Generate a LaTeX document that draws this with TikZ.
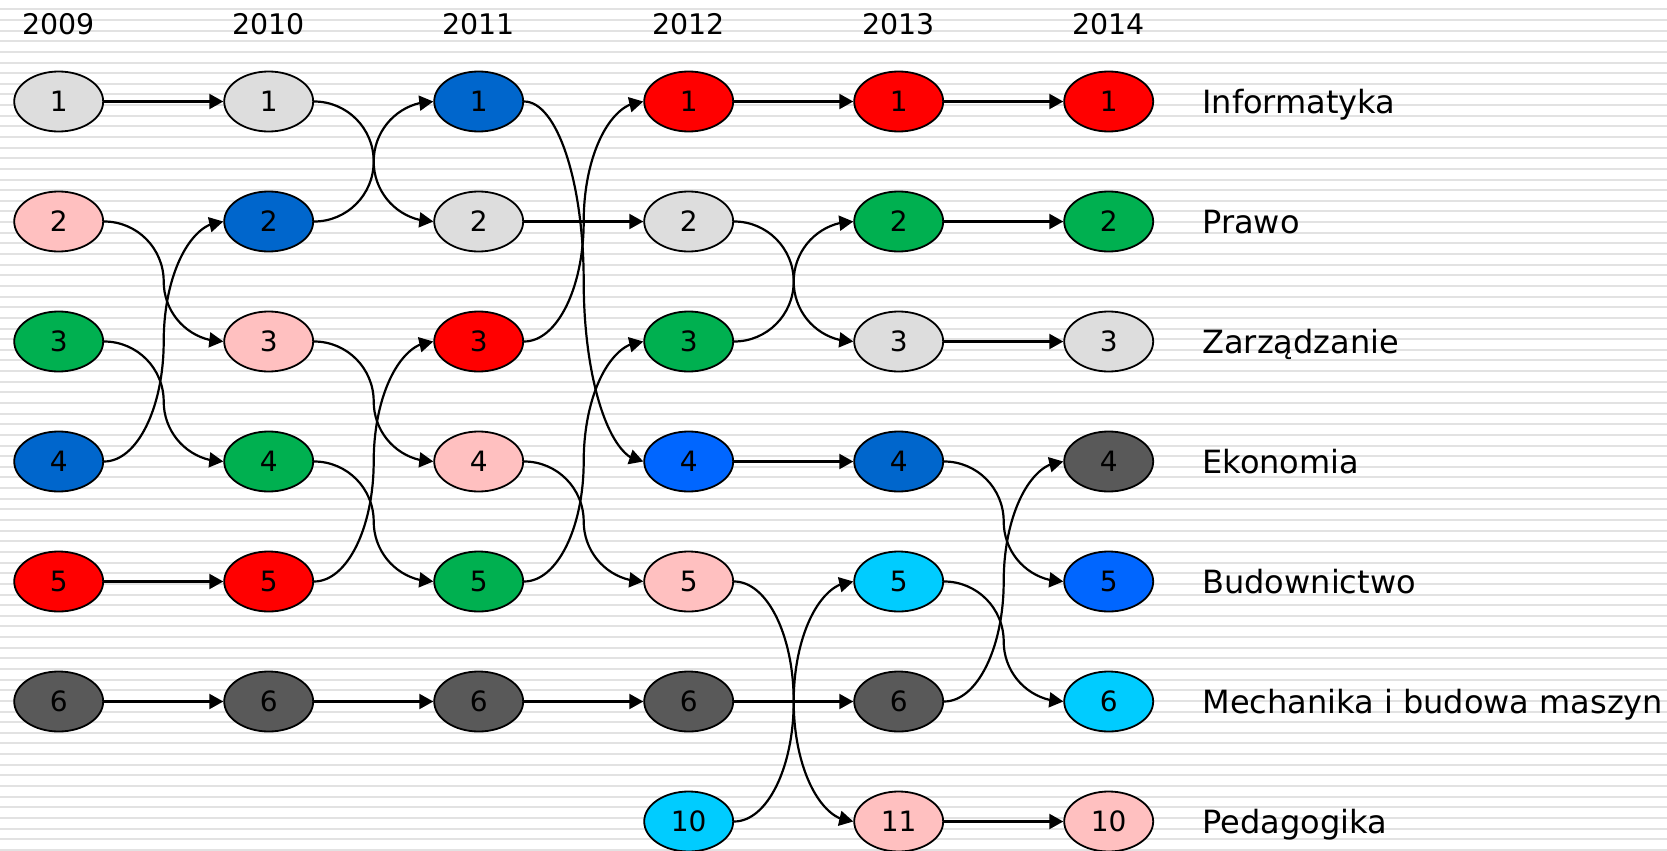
\documentclass[tikz,border=0pt]{standalone}
\usepackage{fontspec}
\setmainfont{DejaVu Sans}
\usetikzlibrary{arrows.meta,bending,calc,shapes.geometric}
\definecolor{cLG}{HTML}{DDDDDD}
\definecolor{cPK}{HTML}{FFC0C0}
\definecolor{cGR}{HTML}{00B050}
\definecolor{cDB}{HTML}{0066CC}
\definecolor{cBB}{HTML}{0066FF}
\definecolor{cRD}{HTML}{FF0000}
\definecolor{cDG}{HTML}{595959}
\definecolor{cCY}{HTML}{00CCFF}
\definecolor{cStripe}{HTML}{E2E2E2}
\tikzset{
  nd/.style={ellipse, draw=black, line width=0.9pt, minimum width=44.5pt, minimum height=30pt, inner sep=0pt, font=\fontsize{14}{16}\selectfont},
  yrlab/.style={inner sep=0pt, font=\fontsize{14.2}{16}\selectfont},
  rlab/.style={inner sep=0pt, anchor=base west, font=\fontsize{16}{18}\selectfont},
  conn/.style={line width=1.1pt, -{Triangle[length=7pt,width=7.5pt,flex]}},
  sconn/.style={to path={let \p1=(\tikztostart), \p2=(\tikztotarget) in
    .. controls ({\x1+0.27615*(\x2-\x1)},\y1) and ({0.5*(\x1+\x2)},{\y1+0.22385*(\y2-\y1)}) .. ({0.5*(\x1+\x2)},{0.5*(\y1+\y2)})
    .. controls ({0.5*(\x1+\x2)},{\y2-0.22385*(\y2-\y1)}) and ({\x2-0.27615*(\x2-\x1)},\y2) .. (\tikztotarget)}}
}
\begin{document}
\begin{tikzpicture}[x=0.5pt,y=-0.5pt]
\useasboundingbox (0,0) rectangle (1667,851);
\fill[white] (0,0) rectangle (1667,851);
\foreach \i in {0,...,79} \fill[cStripe] (0,{9.3+10.64*\i-1}) rectangle (1667,{9.3+10.64*\i+1});
% year labels
\node[yrlab] (y09) at (58.7,24.2) {2009};
\node[yrlab] (y10) at (268.7,24.2) {2010};
\node[yrlab] (y11) at (478.7,24.2) {2011};
\node[yrlab] (y12) at (688.7,24.2) {2012};
\node[yrlab] (y13) at (898.7,24.2) {2013};
\node[yrlab] (y14) at (1108.7,24.2) {2014};
% 2009
\node[nd,fill=cLG] (a1) at (58.7,101.5) {1};
\node[nd,fill=cPK] (a2) at (58.7,221.5) {2};
\node[nd,fill=cGR] (a3) at (58.7,341.5) {3};
\node[nd,fill=cDB] (a4) at (58.7,461.5) {4};
\node[nd,fill=cRD] (a5) at (58.7,581.5) {5};
\node[nd,fill=cDG] (a6) at (58.7,701.5) {6};
% 2010
\node[nd,fill=cLG] (b1) at (268.7,101.5) {1};
\node[nd,fill=cDB] (b2) at (268.7,221.5) {2};
\node[nd,fill=cPK] (b3) at (268.7,341.5) {3};
\node[nd,fill=cGR] (b4) at (268.7,461.5) {4};
\node[nd,fill=cRD] (b5) at (268.7,581.5) {5};
\node[nd,fill=cDG] (b6) at (268.7,701.5) {6};
% 2011
\node[nd,fill=cDB] (c1) at (478.7,101.5) {1};
\node[nd,fill=cLG] (c2) at (478.7,221.5) {2};
\node[nd,fill=cRD] (c3) at (478.7,341.5) {3};
\node[nd,fill=cPK] (c4) at (478.7,461.5) {4};
\node[nd,fill=cGR] (c5) at (478.7,581.5) {5};
\node[nd,fill=cDG] (c6) at (478.7,701.5) {6};
% 2012
\node[nd,fill=cRD] (d1) at (688.7,101.5) {1};
\node[nd,fill=cLG] (d2) at (688.7,221.5) {2};
\node[nd,fill=cGR] (d3) at (688.7,341.5) {3};
\node[nd,fill=cBB] (d4) at (688.7,461.5) {4};
\node[nd,fill=cPK] (d5) at (688.7,581.5) {5};
\node[nd,fill=cDG] (d6) at (688.7,701.5) {6};
\node[nd,fill=cCY] (d7) at (688.7,821.5) {10};
% 2013
\node[nd,fill=cRD] (e1) at (898.7,101.5) {1};
\node[nd,fill=cGR] (e2) at (898.7,221.5) {2};
\node[nd,fill=cLG] (e3) at (898.7,341.5) {3};
\node[nd,fill=cDB] (e4) at (898.7,461.5) {4};
\node[nd,fill=cCY] (e5) at (898.7,581.5) {5};
\node[nd,fill=cDG] (e6) at (898.7,701.5) {6};
\node[nd,fill=cPK] (e7) at (898.7,821.5) {11};
% 2014
\node[nd,fill=cRD] (f1) at (1108.7,101.5) {1};
\node[nd,fill=cGR] (f2) at (1108.7,221.5) {2};
\node[nd,fill=cLG] (f3) at (1108.7,341.5) {3};
\node[nd,fill=cDG] (f4) at (1108.7,461.5) {4};
\node[nd,fill=cBB] (f5) at (1108.7,581.5) {5};
\node[nd,fill=cCY] (f6) at (1108.7,701.5) {6};
\node[nd,fill=cPK] (f7) at (1108.7,821.5) {10};
% right labels
\node[rlab] (l1) at (1202,113) {Informatyka};
\node[rlab] (l2) at (1202,233) {Prawo};
\node[rlab] (l3) at (1202,353) {Zarządzanie};
\node[rlab] (l4) at (1202,473) {Ekonomia};
\node[rlab] (l5) at (1202,593) {Budownictwo};
\node[rlab] (l6) at (1202,713) {Mechanika i budowa maszyn};
\node[rlab] (l7) at (1202,833) {Pedagogika};
% straight connectors
\foreach \s/\t in {a1/b1,a5/b5,a6/b6,b6/c6,c2/d2,c6/d6,d1/e1,d4/e4,d6/e6,e1/f1,e2/f2,e3/f3,e7/f7}
  \draw[conn] (\s.east) -- (\t.west);
% curved connectors
\foreach \s/\t in {a2/b3,a3/b4,a4/b2,b1/c2,b2/c1,b3/c4,b4/c5,b5/c3,c1/d4,c3/d1,c4/d5,c5/d3,d2/e3,d3/e2,d5/e7,d7/e5,e4/f5,e5/f6,e6/f4}
  \draw[conn] (\s.east) to[sconn] (\t.west);
\end{tikzpicture}
\end{document}
